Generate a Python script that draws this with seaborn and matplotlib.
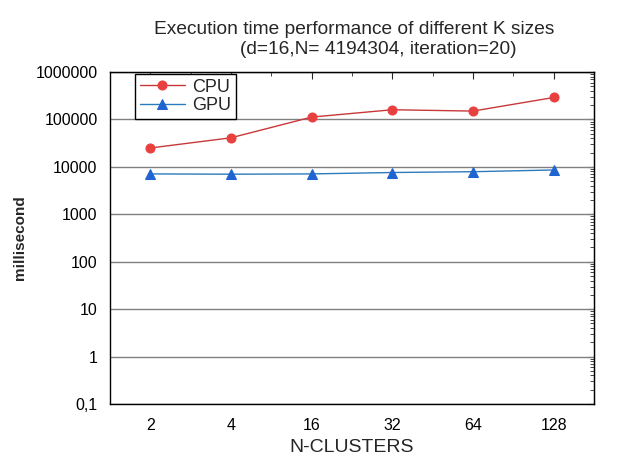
import matplotlib
matplotlib.use("Agg")
import matplotlib.pyplot as plt
import matplotlib.ticker as mticker
import pandas as pd
import seaborn as sns

clusters = ["2", "4", "16", "32", "64", "128"]
cpu_ms = [25000, 41000, 112000, 160000, 150000, 290000]
gpu_ms = [7100, 7000, 7100, 7600, 7900, 8600]
y_ticks = [0.1, 1, 10, 100, 1000, 10000, 100000, 1000000]
y_tick_labels = ["0,1", "1", "10", "100", "1000", "10000", "100000", "1000000"]

df = pd.DataFrame({"N-CLUSTERS": clusters, "CPU": cpu_ms, "GPU": gpu_ms})

sns.set_style("white")
plt.rcParams["font.family"] = ["Liberation Sans", "DejaVu Sans"]

fig = plt.figure(figsize=(6.3, 4.71), dpi=100)
ax = fig.add_axes([110 / 630, 1 - 404 / 471, 484 / 630, 332 / 471])

sns.lineplot(data=df, x="N-CLUSTERS", y="CPU", ax=ax, label="CPU",
             color="#c8383a", linewidth=1, marker="o", markersize=6.5,
             markerfacecolor="#e8403f", markeredgecolor="#e8403f")
sns.lineplot(data=df, x="N-CLUSTERS", y="GPU", ax=ax, label="GPU",
             color="#2b7bbd", linewidth=1, marker="^", markersize=7.5,
             markerfacecolor="#1f64d0", markeredgecolor="#1f64d0")

ax.set_yscale("log")
ax.set_ylim(0.1, 1000000)
ax.set_xlim(-0.5, 5.5)
ax.set_yticks(y_ticks)
ax.set_yticklabels(y_tick_labels)
ax.yaxis.set_minor_locator(mticker.LogLocator(base=10, subs=range(2, 10), numticks=20))
ax.yaxis.set_minor_formatter(mticker.NullFormatter())
ax.xaxis.set_minor_locator(mticker.FixedLocator([0.5, 1.5, 2.5, 3.5, 4.5]))

ax.grid(True, axis="y", which="major", color="#808080", linewidth=1)
ax.grid(False, axis="x")
for sp in ax.spines.values():
    sp.set_color("black")
    sp.set_linewidth(1)

ax.tick_params(axis="both", which="major", direction="out", length=5, width=1,
               labelsize=11.5, colors="black", pad=4)
ax.tick_params(axis="both", which="minor", direction="in", length=3, width=0.8)
ax.tick_params(axis="x", which="major", pad=5)

sec_x = ax.secondary_xaxis("top")
sec_x.set_xticks(range(len(clusters)))
sec_x.xaxis.set_minor_locator(mticker.FixedLocator([0.5, 1.5, 2.5, 3.5, 4.5]))
sec_x.tick_params(which="major", direction="in", length=5, labeltop=False)
sec_x.tick_params(which="minor", direction="in", length=3)
sec_x.set_xticklabels([])

sec_y = ax.secondary_yaxis("right")
sec_y.set_yticks(y_ticks)
sec_y.yaxis.set_minor_locator(mticker.LogLocator(base=10, subs=range(2, 10), numticks=20))
sec_y.yaxis.set_minor_formatter(mticker.NullFormatter())
sec_y.tick_params(which="major", direction="in", length=5, labelright=False)
sec_y.tick_params(which="minor", direction="in", length=3)
sec_y.set_yticklabels([])

ax.set_xlabel("N-CLUSTERS", fontsize=14)
ax.xaxis.set_label_coords(0.5, -0.132)
ax.xaxis.label.set_va("center")
ax.set_ylabel("millisecond", fontsize=11, fontweight="bold")
ax.yaxis.set_label_coords(-0.186, 0.5)
ax.yaxis.label.set_va("center")

fig.text(354 / 630, 1 - 30 / 471, "Execution time performance of different K sizes",
         ha="center", va="center", fontsize=13.8)
fig.text(378 / 630, 1 - 49 / 471, "(d=16,N= 4194304, iteration=20)",
         ha="center", va="center", fontsize=13.8)

leg = ax.legend(loc="upper left", bbox_to_anchor=(0.052, 0.994), borderaxespad=0,
                fontsize=13, frameon=True, fancybox=False, framealpha=1,
                edgecolor="black", handlelength=2.5, handletextpad=0.4,
                borderpad=0.25, labelspacing=0.1)
leg.get_frame().set_linewidth(1)

fig.savefig("out.png", dpi=100)
